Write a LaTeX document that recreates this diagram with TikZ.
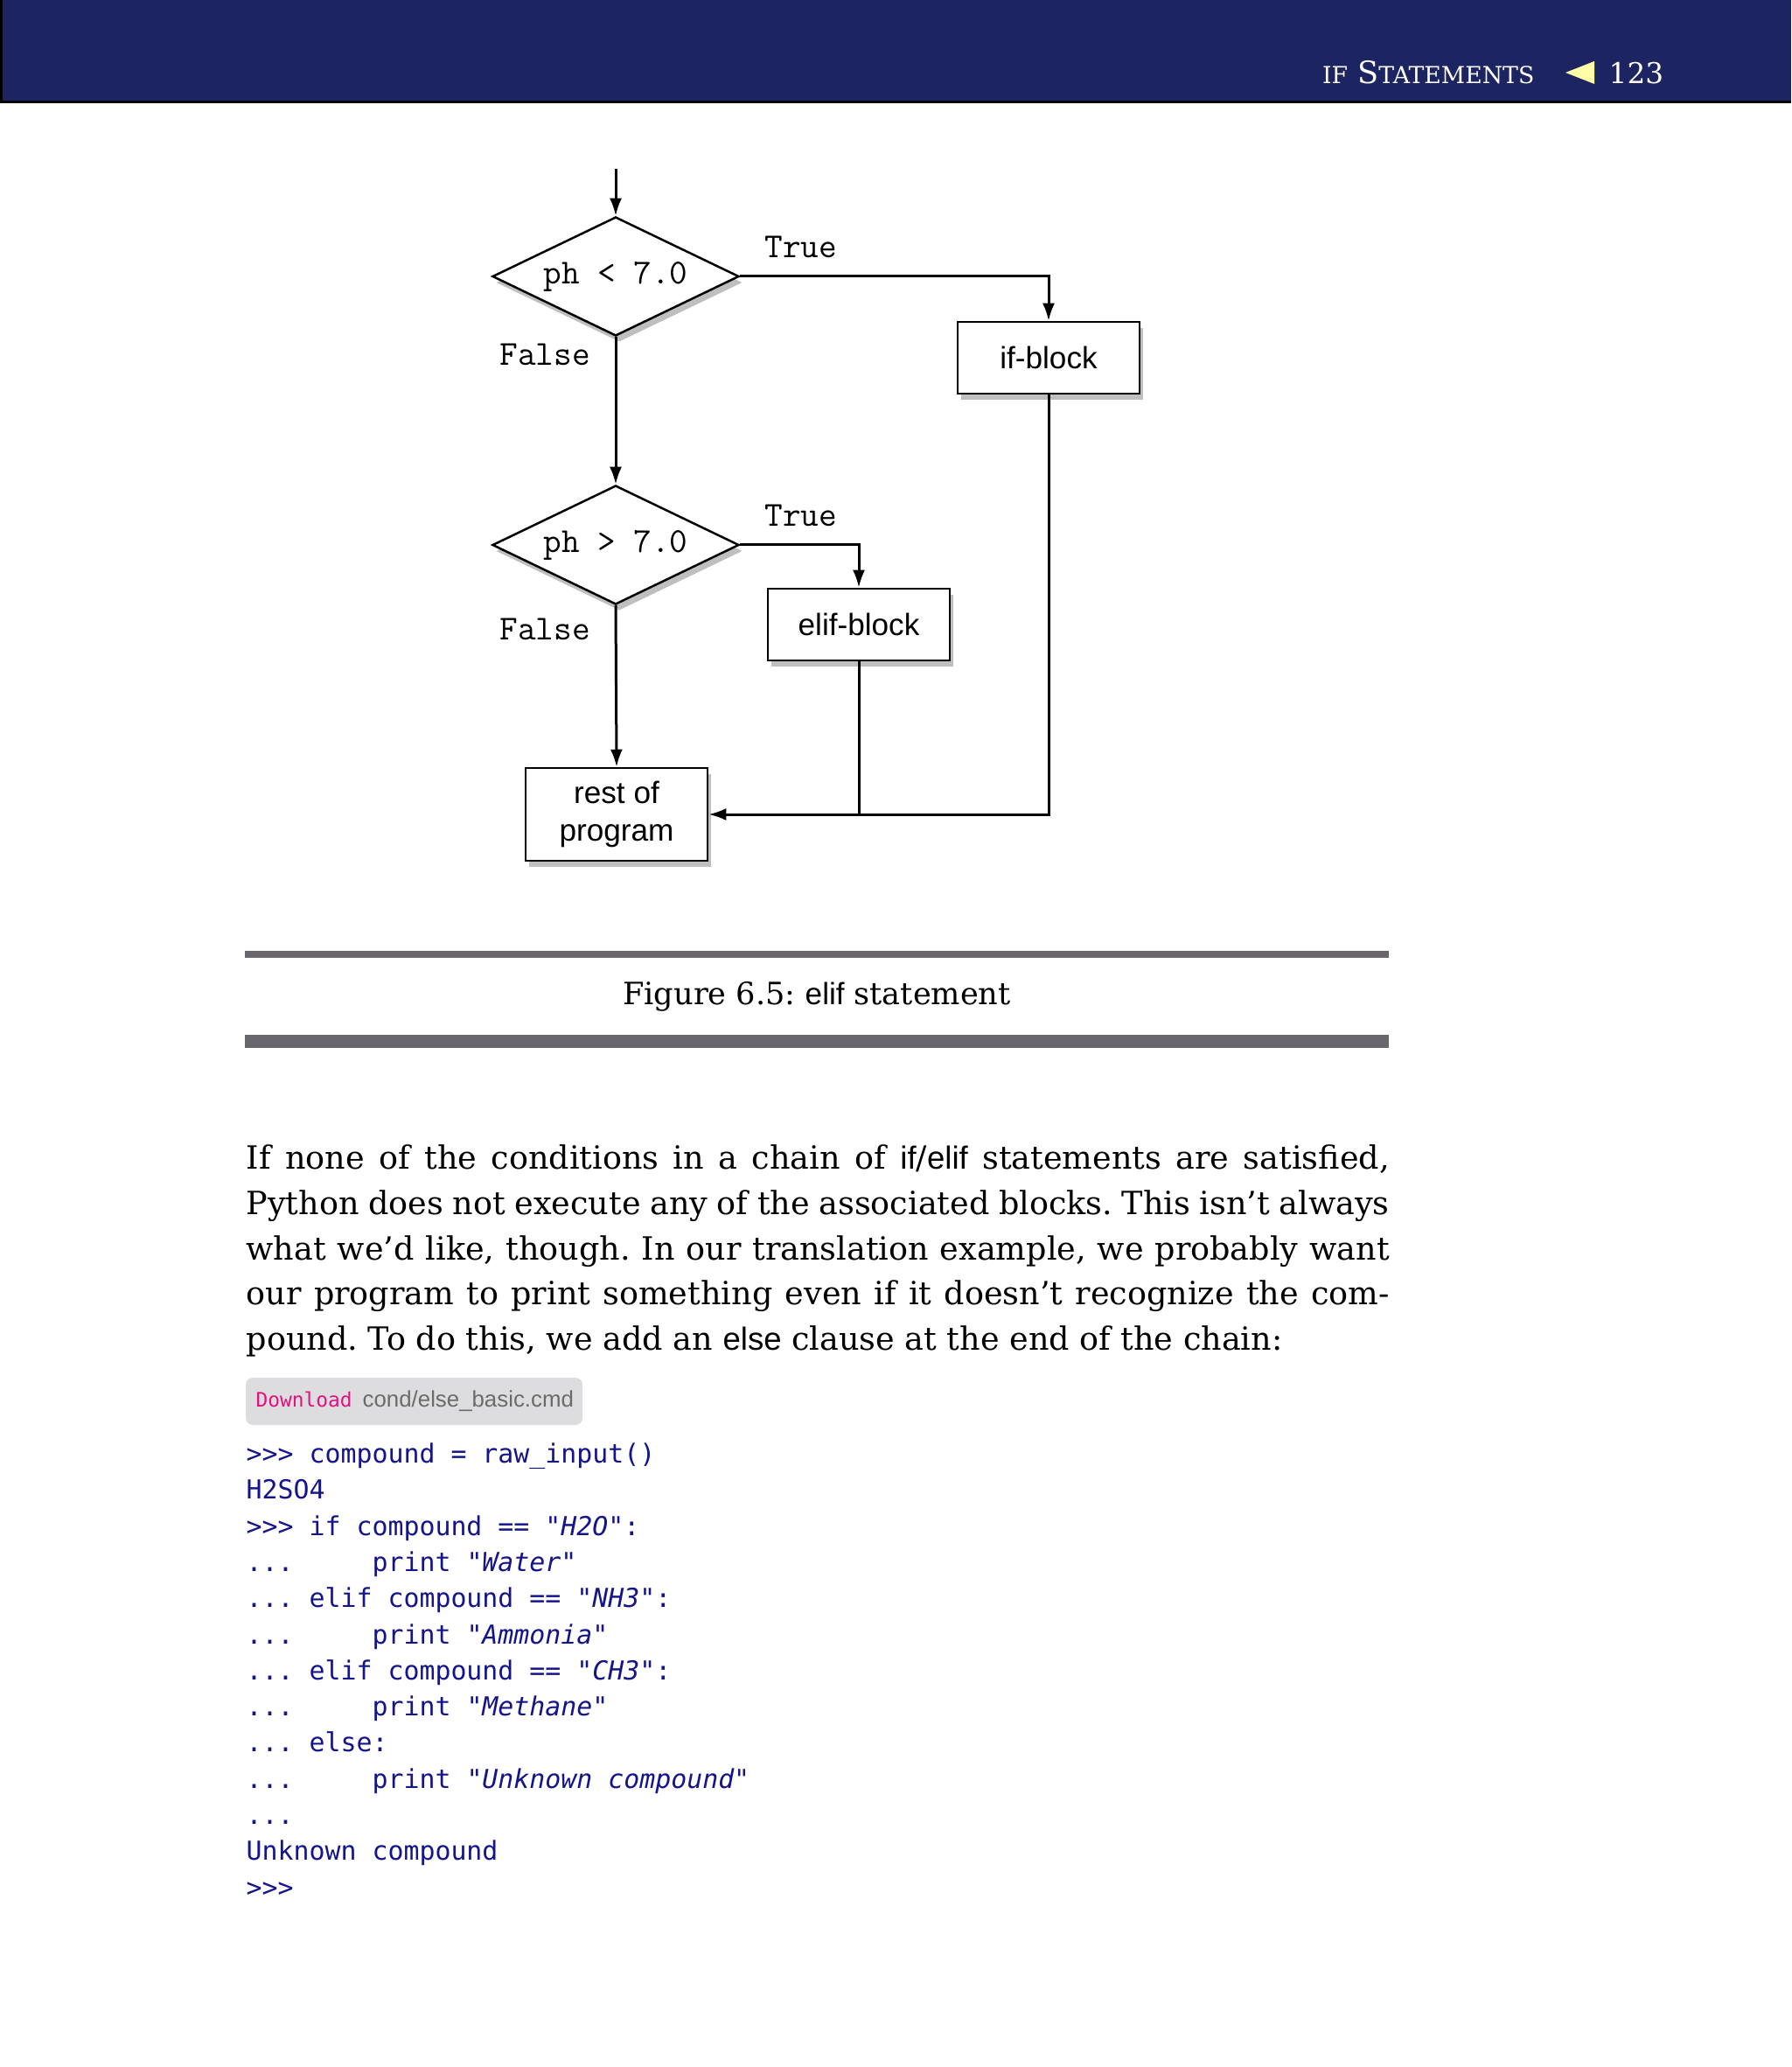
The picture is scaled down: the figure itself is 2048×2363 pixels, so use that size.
\documentclass[tikz,border=0pt]{standalone}
\usepackage{fontspec}
\usepackage{tikz}
\usetikzlibrary{positioning,shapes.geometric,shadows,arrows.meta}

\newfontfamily\pageserif{DejaVu Serif}
\newfontfamily\pagesans{Liberation Sans}
\newfontfamily\codemono{DejaVu Sans Mono}

\definecolor{headnavy}{HTML}{1C2562}
\definecolor{headyellow}{HTML}{FFFFA8}
\definecolor{rulegray}{HTML}{69676C}
\definecolor{codeblue}{HTML}{14148C}
\definecolor{dlpink}{HTML}{E2127F}
\definecolor{dlgray}{HTML}{6B6B6B}
\definecolor{dlfill}{HTML}{DDDCDE}

\newcommand{\sanskw}[1]{{\pagesans #1}}
\newcommand{\smallcap}[1]{{\fontsize{7.6pt}{8pt}\selectfont #1}}
\frenchspacing

\begin{document}
\begin{tikzpicture}[x=0.1mm,y=-0.1mm,
    every node/.style={inner sep=0pt},
    decision/.style={diamond, draw, fill=white, line width=0.25mm, aspect=2,
        minimum width=28.2mm, minimum height=13.6mm,
        font=\ttfamily\fontsize{11.4pt}{13pt}\selectfont,
        drop shadow={shadow xshift=0.4mm, shadow yshift=-0.7mm, opacity=0.25, fill=black}},
    block/.style={rectangle, draw, fill=white, line width=0.25mm,
        minimum width=20.8mm, minimum height=8.2mm, align=center,
        font=\pagesans\fontsize{10pt}{12.2pt}\selectfont,
        drop shadow={shadow xshift=0.4mm, shadow yshift=-0.7mm, opacity=0.25, fill=black}},
    flow/.style={line width=0.3mm, -{Latex[length=2mm,width=1.4mm]}},
    branch/.style={anchor=base west, font=\ttfamily\fontsize{11.4pt}{13pt}\selectfont},
    bodyline/.style={anchor=base west, font=\pageserif\fontsize{10.4pt}{12pt}\selectfont},
    codeline/.style={anchor=base west, text=codeblue, font=\codemono\fontsize{8.5pt}{10pt}\selectfont}]
    \useasboundingbox[fill=white] (0,0) rectangle (2048,2363);

    %%%%% THE PAGE HEADER
    \fill[headnavy] (0,0) rectangle (2048,115);
    \fill[black] (0,115) rectangle (2048,118);
    \fill[black] (0,0) rectangle (3,118);
    \node[anchor=base east, text=white, font=\pageserif\fontsize{10pt}{11pt}\selectfont]
        (runhead) at (1755,96) {\smallcap{IF} S\smallcap{TATEMENTS}};
    \fill[headyellow] (1790,83) -- (1823,70) -- (1823,96) -- cycle;
    \node[anchor=base west, text=white, font=\pageserif\fontsize{9.3pt}{10pt}\selectfont]
        (pagenum) at (1839,96) {123};

    %%%%% THE FLOWCHART
    \coordinate (entry) at (704,193);
    \node[decision] (phlow) at (704,316) {ph < 7.0};
    \node[block] (ifblk) at (1199,409) {if-block};
    \node[decision] (phhigh) at (704,623) {ph > 7.0};
    \node[block] (elifblk) at (982,714) {elif-block};
    \node[block, minimum height=10.6mm] (rest) at (705,931) {rest of\\program};
    % branch labels
    \node[branch] (true1) at (874,295) {True};
    \node[branch] (false1) at (571,418) {False};
    \node[branch] (true2) at (874,602) {True};
    \node[branch] (false2) at (571,731) {False};
    % connectors
    \draw[flow] (entry) -- (phlow.north);
    \draw[flow] (phlow.east) -| (ifblk.north);
    \draw[flow] (phlow.south) -- (phhigh.north);
    \draw[flow] (phhigh.east) -| (elifblk.north);
    \draw[flow] (phhigh.south) -- (rest.north);
    \draw[flow] (ifblk.south) |- (rest.east);
    \draw[line width=0.3mm] (elifblk.south) -- (elifblk.south |- rest.east);

    %%%%% THE CAPTION
    \fill[rulegray] (280,1087) rectangle (1588,1095);
    \node[anchor=base, font=\pageserif\fontsize{10pt}{12pt}\selectfont]
        (caption) at (934,1148) {Figure 6.5: \sanskw{elif} statement};
    \fill[rulegray] (280,1183) rectangle (1588,1198);

    %%%%% THE PARAGRAPH
    \node[bodyline] (para1) at (281,1336) {\makebox[130.7mm][s]{If none of the conditions in a chain of \sanskw{if}/\sanskw{elif} statements are satisfied,}};
    \node[bodyline] (para2) at (281,1388) {\makebox[130.7mm][s]{Python does not execute any of the associated blocks. This isn’t always}};
    \node[bodyline] (para3) at (281,1440) {\makebox[130.7mm][s]{what we’d like, though. In our translation example, we probably want}};
    \node[bodyline] (para4) at (281,1491) {\makebox[130.7mm][s]{our program to print something even if it doesn’t recognize the com-}};
    \node[bodyline] (para5) at (281,1543) {pound. To do this, we add an \sanskw{else} clause at the end of the chain:};

    %%%%% THE DOWNLOAD TAG
    \fill[dlfill, rounded corners=0.8mm] (281,1575) rectangle (666,1629);
    \node[anchor=base west, text=dlpink, font=\codemono\fontsize{6.5pt}{7pt}\selectfont]
        (dlword) at (292,1608) {Download};
    \node[anchor=base west, text=dlgray, font=\pagesans\fontsize{7.35pt}{8pt}\selectfont]
        (dlfile) at (414,1608) {cond/else\_basic.cmd};

    %%%%% THE CODE
    \node[codeline] (code1) at (281,1672) {>>> compound = raw\_input()};
    \node[codeline] (code2) at (281,1713) {H2SO4};
    \node[codeline] (code3) at (281,1755) {>>> if compound == {\itshape"H2O"}:};
    \node[codeline] (code4) at (281,1796) {...~~~~~print {\itshape"Water"}};
    \node[codeline] (code5) at (281,1837) {... elif compound == {\itshape"NH3"}:};
    \node[codeline] (code6) at (281,1879) {...~~~~~print {\itshape"Ammonia"}};
    \node[codeline] (code7) at (281,1920) {... elif compound == {\itshape"CH3"}:};
    \node[codeline] (code8) at (281,1961) {...~~~~~print {\itshape"Methane"}};
    \node[codeline] (code9) at (281,2002) {... else:};
    \node[codeline] (code10) at (281,2044) {...~~~~~print {\itshape"Unknown compound"}};
    \node[codeline] (code11) at (281,2085) {...};
    \node[codeline] (code12) at (281,2126) {Unknown compound};
    \node[codeline] (code13) at (281,2168) {>>>};
\end{tikzpicture}
\end{document}
